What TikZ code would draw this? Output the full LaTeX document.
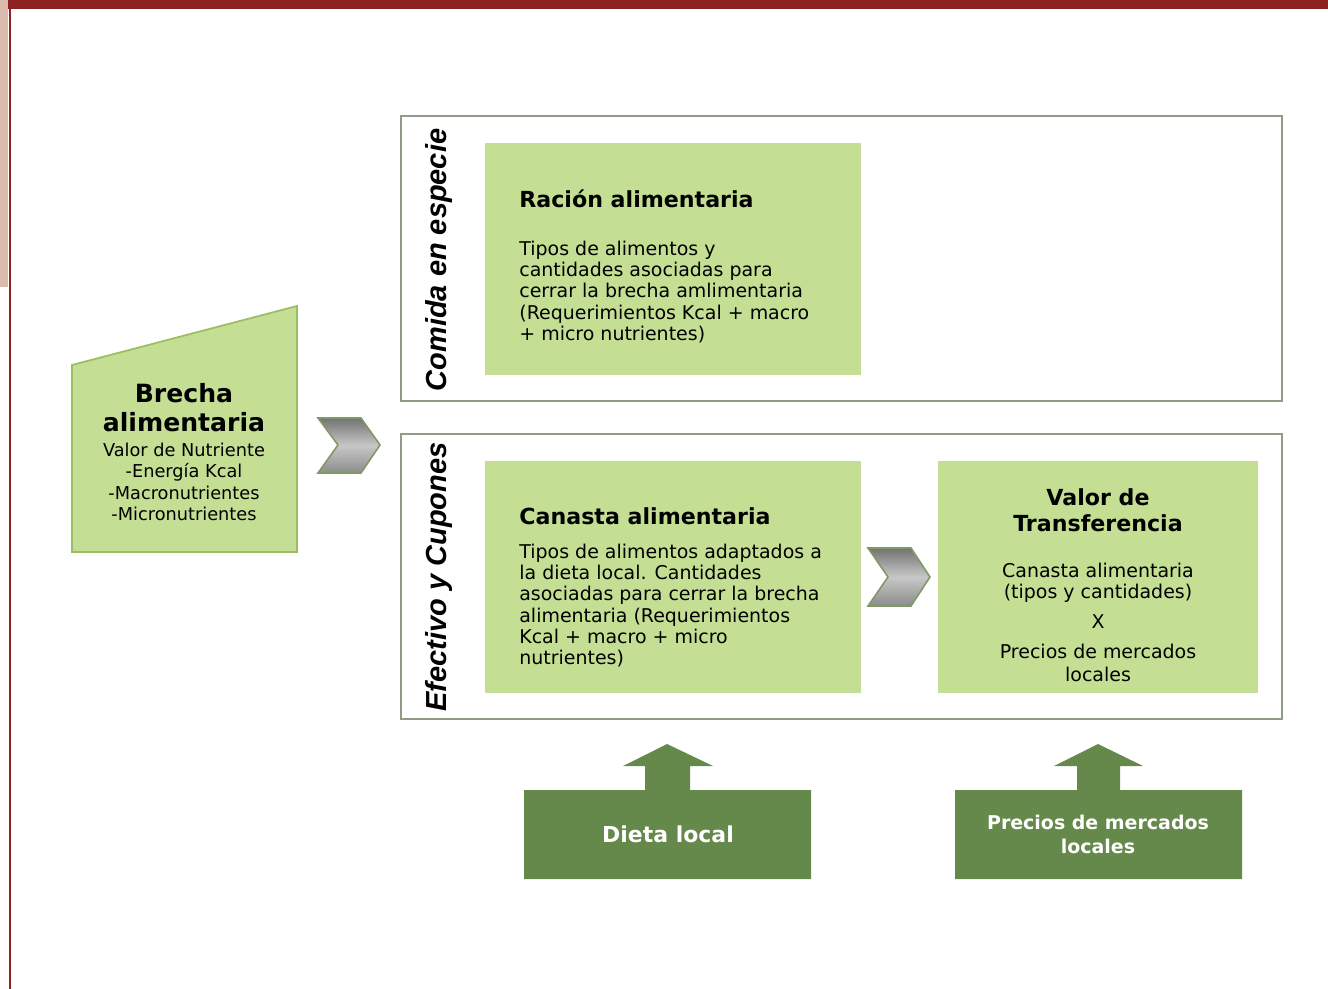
\documentclass[tikz,border=0pt]{standalone}
\usepackage{fontspec}
\setmainfont{DejaVu Sans}
\newfontfamily\sidefont{Liberation Sans}

\begin{document}
\begin{tikzpicture}[x=0.02cm, y=-0.02cm,
    frame/.style={draw=frameGray, line width=1pt},
    headTxt/.style={font=\fontsize{12.6}{14.8}\selectfont\bfseries, inner sep=0},
    bodyTxt/.style={font=\fontsize{10.8}{12}\selectfont, inner sep=0},
    sideTxt/.style={font=\sidefont\bfseries\itshape\fontsize{16.5}{18}\selectfont, rotate=90, inner sep=0},
    darkTxt/.style={font=\bfseries, text=white, align=center, inner sep=0},
    chevronShape/.style={draw=chevEdge, line width=0.9pt, top color=black!55, bottom color=black!45, middle color=black!22}]

% ---------------------------------------------------------------------------
% Color aliases
% ---------------------------------------------------------------------------
\definecolor{barRed}{HTML}{8E2222}
\definecolor{bandPink}{HTML}{DCBBAE}
\definecolor{frameGray}{HTML}{8D9B87}
\definecolor{lightGreen}{HTML}{C4DF93}
\definecolor{edgeGreen}{HTML}{9DBD63}
\definecolor{chevEdge}{HTML}{7E9A62}
\definecolor{darkGreen}{HTML}{65894B}

\useasboundingbox (0,0) rectangle (1328,989);

% ---------------------------------------------------------------------------
% Page trim (top bar and left rule)
% ---------------------------------------------------------------------------
\fill[bandPink] (0,0) rectangle (8,287);
\fill[barRed] (8,0) rectangle (1328,9);
\fill[barRed] (9,9) rectangle (11,989);

% ===========================================================================
%  BRECHA ALIMENTARIA  -- left block
% ===========================================================================
\filldraw[fill=lightGreen, draw=edgeGreen, line width=1pt]
    (72,365) -- (297,306) -- (297,552) -- (72,552) -- cycle;

\node[font=\fontsize{14.3}{16.5}\selectfont\bfseries, align=center, anchor=north, inner sep=0]
    (brechaHead) at (184,383) {Brecha\\alimentaria};
\node[font=\fontsize{10.1}{12}\selectfont, align=center, anchor=north, inner sep=0]
    (brechaBody) at (184,443) {Valor de Nutriente\\-Energía Kcal\\-Macronutrientes\\-Micronutrientes};

% Chevron towards the two modalities
\shadedraw[chevronShape]
    (318,418) -- (361,418) -- (380,445) -- (361,473) -- (318,473) -- (338,445) -- cycle;

% ===========================================================================
%  COMIDA EN ESPECIE  -- upper band
% ===========================================================================
\draw[frame] (401,116) rectangle (1282,401);
\node[sideTxt] (especie) at (439,260) {Comida en especie};

\fill[lightGreen] (485,143) rectangle (861,375);
\node[headTxt, anchor=base west] (racionHead) at (519,208) {Ración alimentaria};
\node[bodyTxt, align=left, anchor=north west] (racionBody) at (519,241)
    {Tipos de alimentos y\\cantidades asociadas para\\cerrar la brecha amlimentaria\\(Requerimientos Kcal + macro\\+ micro nutrientes)};

% ===========================================================================
%  EFECTIVO Y CUPONES  -- lower band
% ===========================================================================
\draw[frame] (401,434) rectangle (1282,719);
\node[sideTxt] (cupones) at (439,577) {Efectivo y Cupones};

% Canasta alimentaria
\fill[lightGreen] (485,461) rectangle (861,693);
\node[headTxt, anchor=base west] (canastaHead) at (519,524) {Canasta alimentaria};
\node[bodyTxt, align=left, anchor=north west] (canastaBody) at (519,544)
    {Tipos de alimentos adaptados a\\la dieta local. Cantidades\\asociadas para cerrar la brecha\\alimentaria (Requerimientos\\Kcal + macro + micro\\nutrientes)};

% Chevron between basket and transfer value
\shadedraw[chevronShape]
    (868,548) -- (911,548) -- (930,577) -- (911,606) -- (868,606) -- (888,577) -- cycle;

% Valor de transferencia
\fill[lightGreen] (938,461) rectangle (1258,693);
\node[headTxt, align=center, anchor=north] (valorHead) at (1098,488) {Valor de\\Transferencia};
\node[bodyTxt, align=center, anchor=north] (valorBody) at (1098,563)
    {Canasta alimentaria\\(tipos y cantidades)\\[5pt]X\\[5pt]Precios de mercados\\[1pt]locales};

% ===========================================================================
%  INPUTS  -- block arrows below
% ===========================================================================
\fill[darkGreen]
    (524,790) -- (645,790) -- (645,766) -- (623,766) -- (667,744) -- (713,766)
    -- (690,766) -- (690,790) -- (811,790) -- (811,879) -- (524,879) -- cycle;
\node[darkTxt, font=\fontsize{12.5}{15}\selectfont\bfseries] (dieta) at (668,834) {Dieta local};

\fill[darkGreen]
    (955,790) -- (1077,790) -- (1077,766) -- (1054,766) -- (1098,744) -- (1143,766)
    -- (1120,766) -- (1120,790) -- (1242,790) -- (1242,879) -- (955,879) -- cycle;
\node[darkTxt, font=\fontsize{10.8}{13.7}\selectfont\bfseries] (precios) at (1098,834) {Precios de mercados\\locales};

\end{tikzpicture}
\end{document}
